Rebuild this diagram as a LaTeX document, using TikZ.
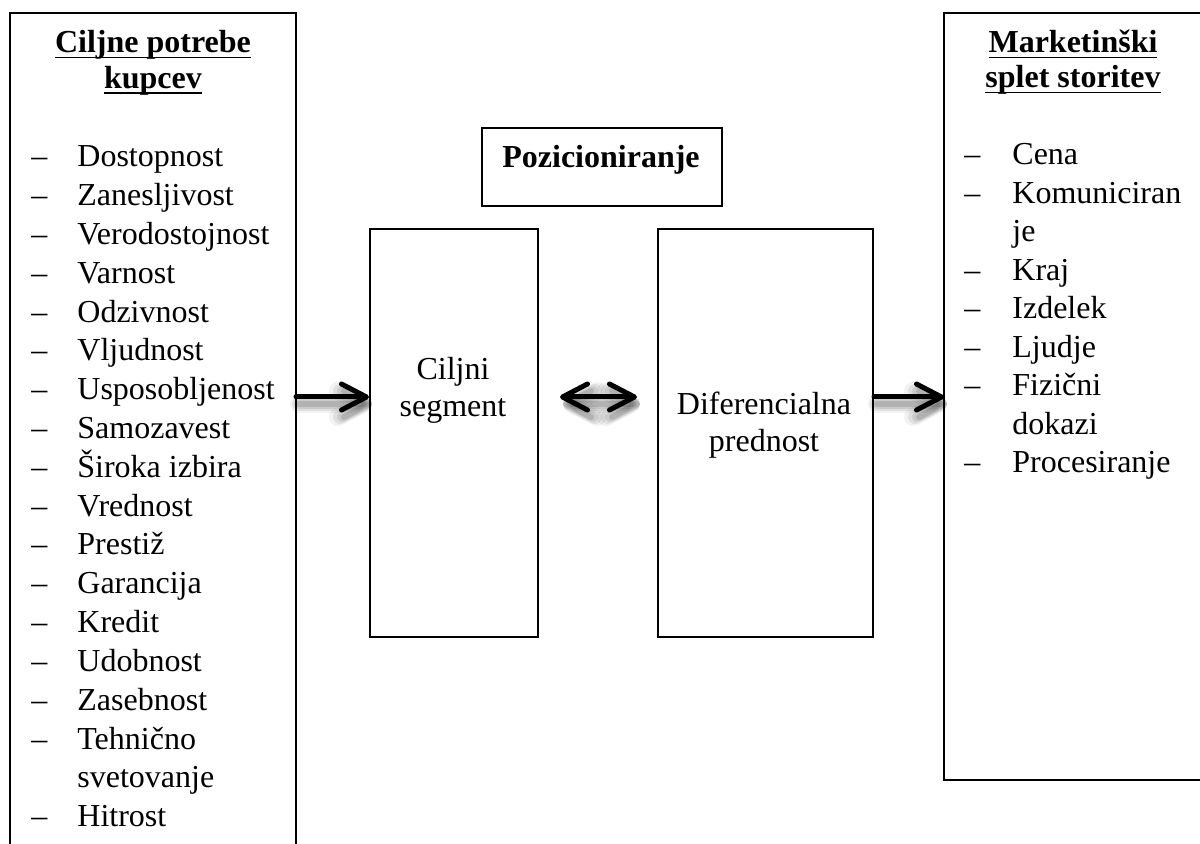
\documentclass[tikz,border=0pt]{standalone}
\usepackage{fontspec}
\setmainfont{Liberation Serif}
\usetikzlibrary{arrows.meta}
\newcommand\ulx[1]{\setbox0\hbox{#1}\rlap{\rule[-2.6pt]{\wd0}{0.8pt}}\box0}
\begin{document}
\begin{tikzpicture}[x=0.5pt,y=-0.5pt,
  font=\fontsize{16pt}{19.3pt}\selectfont,
  box/.style={draw, line width=1pt, inner sep=0pt, anchor=north west},
  txt/.style={anchor=base, inner sep=0pt},
  item/.style={anchor=base west, inner sep=0pt},
  bigarr/.style={line width=2.5pt, line cap=round, -{Straight Barb[length=12.5pt,width=13pt,round]}},
  dblarr/.style={line width=2.5pt, line cap=round, {Straight Barb[length=12.5pt,width=13pt,round]}-{Straight Barb[length=12.5pt,width=13pt,round]}},
  shad/.style={transform canvas={shift={(1.5pt,-3.5pt)}}, draw=black, line cap=round}]
\useasboundingbox (0,0) rectangle (1200,844);
\fill[white] (0,0) rectangle (1200,844);
\clip (0,0) rectangle (1200,844);

% outer boxes
\draw[line width=1pt] (10,870) -- (10,13) -- (296,13) -- (296,870);
\draw[line width=1pt] (1215,13) -- (944,13) -- (944,780) -- (1215,780);
\coordinate (Lr) at (296,397);
\coordinate (Rl) at (944,397);

% middle boxes
\node[box, minimum width=120pt, minimum height=39pt] (pozbox) at (481,127) {};
\node[box, minimum width=84pt, minimum height=204pt] (seg) at (369,228) {};
\node[box, minimum width=107.5pt, minimum height=204pt] (dif) at (657,228) {};

% titles
\node[txt] (t1a) at (153,53) {\textbf{\ulx{Ciljne potrebe}}};
\node[txt] (t1b) at (153,88.5) {\textbf{\ulx{kupcev}}};
\node[txt] (t2a) at (1073,53) {\textbf{\ulx{Marketinški}}};
\node[txt] (t2b) at (1073,88) {\textbf{\ulx{splet storitev}}};
\node[txt] (poz) at (601,168) {\textbf{Pozicioniranje}};
\node[txt] (sega) at (453,380) {Ciljni};
\node[txt] (segb) at (453,417) {segment};
\node[txt] (difa) at (764,415) {Diferencialna};
\node[txt] (difb) at (764,452) {prednost};

% left list
\foreach \d/\t [count=\i from 0] in {1/Dostopnost,1/Zanesljivost,1/Verodostojnost,1/Varnost,1/Odzivnost,1/Vljudnost,1/Usposobljenost,1/Samozavest,1/Široka izbira,1/Vrednost,1/Prestiž,1/Garancija,1/Kredit,1/Udobnost,1/Zasebnost,1/Tehnično,0/svetovanje,1/Hitrost}{
  \node[item] (L\i) at (77,{167+\i*38.8}) {\t};
  \ifnum\d=1 \node[item] (LD\i) at (31,{167+\i*38.8}) {–};\fi
}
% right list
\foreach \d/\t [count=\i from 0] in {1/Cena,1/Komuniciran,0/je,1/Kraj,1/Izdelek,1/Ljudje,1/Fizični,0/dokazi,1/Procesiranje}{
  \node[item] (R\i) at (1012,{165+\i*38.5}) {\t};
  \ifnum\d=1 \node[item] (RD\i) at (964,{165+\i*38.5}) {–};\fi
}

\coordinate (d1) at (560,397);
\coordinate (d2) at (637,397);

% shadows
\foreach \w/\o in {9pt/0.05,7pt/0.07,5pt/0.09,3pt/0.12}{
  \draw[shad, line width=\w, opacity=\o, -{Straight Barb[length=12.5pt,width=13pt,round]}] (Lr) -- (seg.west |- Lr);
  \draw[shad, line width=\w, opacity=\o, {Straight Barb[length=12.5pt,width=13pt,round]}-{Straight Barb[length=12.5pt,width=13pt,round]}] (d1) -- (d2);
  \draw[shad, line width=\w, opacity=\o, -{Straight Barb[length=12.5pt,width=13pt,round]}] (dif.east |- Lr) -- (Rl);
}
% arrows
\draw[bigarr] (Lr) -- (seg.west |- Lr);
\draw[dblarr] (d1) -- (d2);
\draw[bigarr] (dif.east |- Lr) -- (Rl);
\end{tikzpicture}
\end{document}
